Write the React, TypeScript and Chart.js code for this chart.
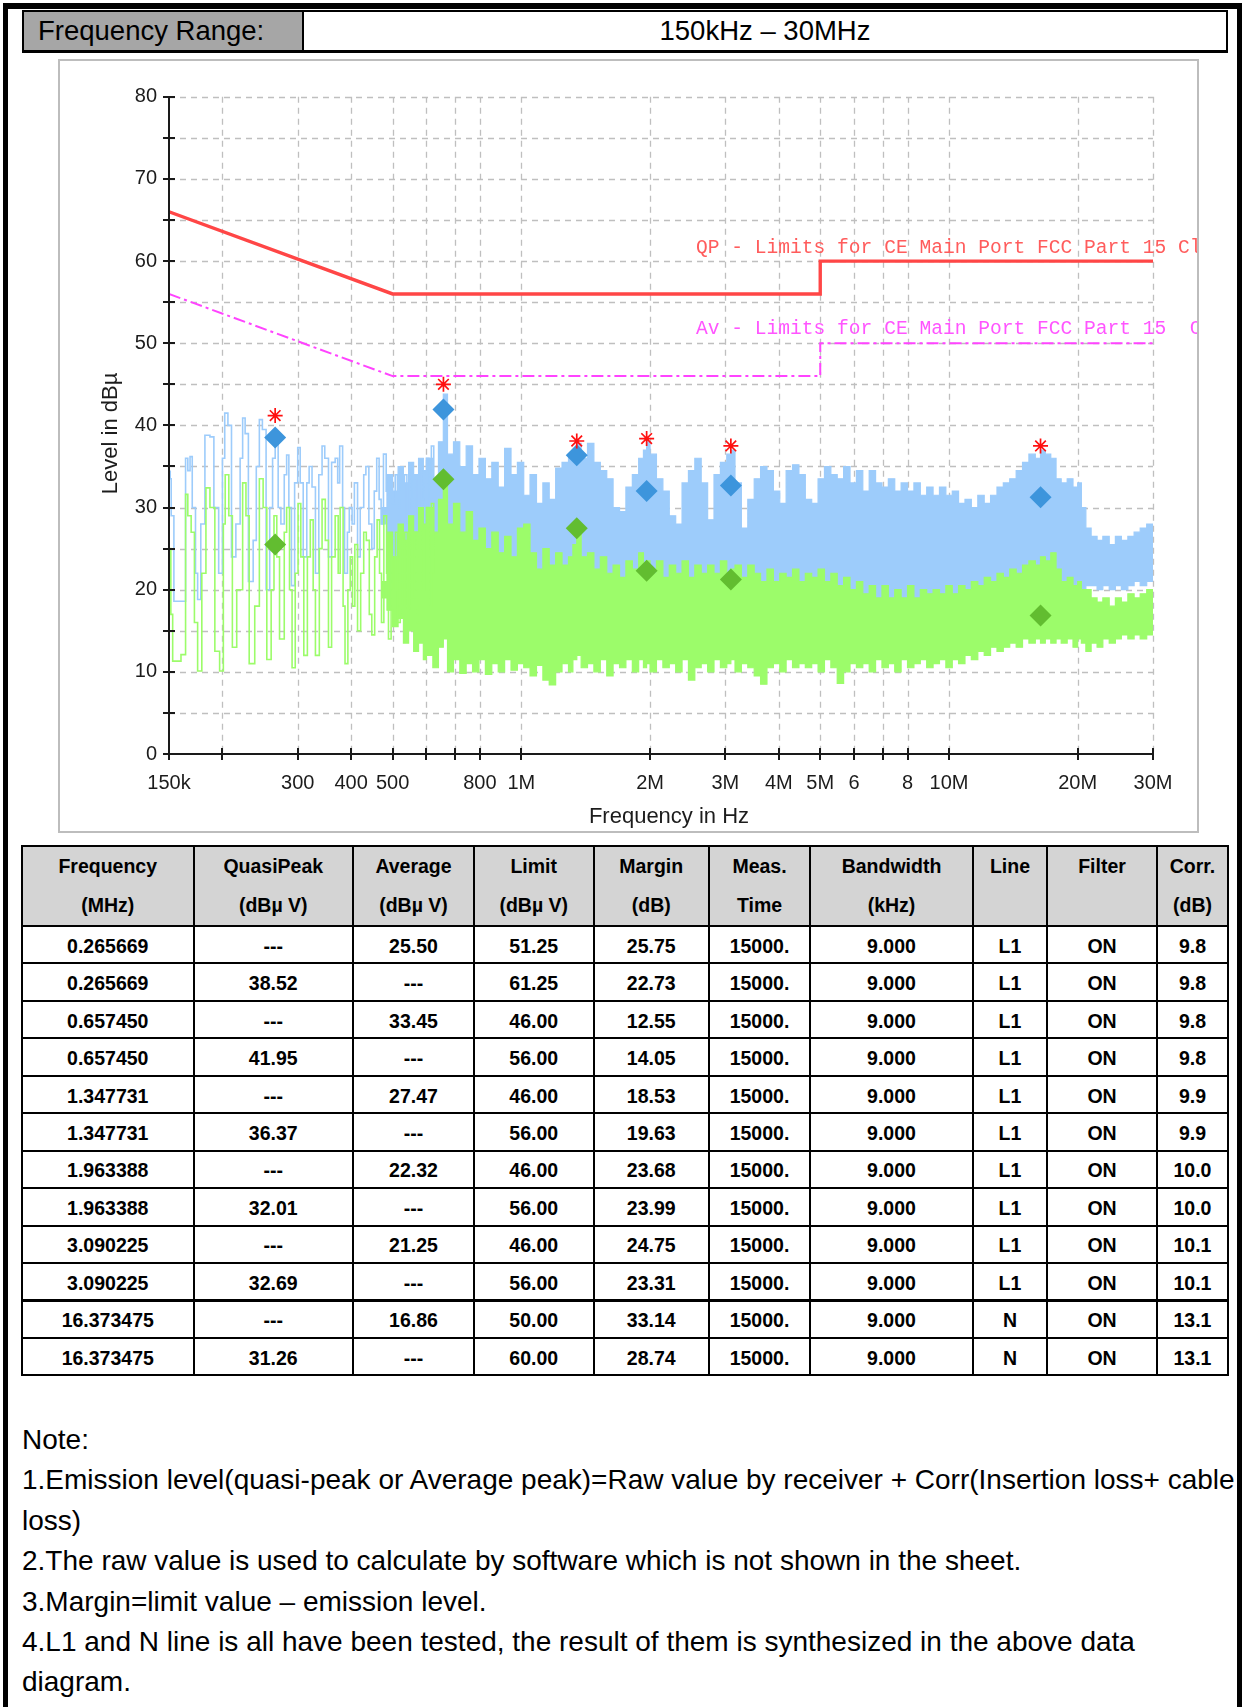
import React, { useEffect, useRef } from 'react';
import { Chart, registerables } from 'chart.js';

Chart.register(...registerables);

// ---------------- axis data ----------------
const X_MIN = 0.15;
const X_MAX = 30;
const Y_MIN = 0;
const Y_MAX = 80;
const xTickValues = [0.15, 0.2, 0.3, 0.4, 0.5, 0.6, 0.7, 0.8, 1, 2, 3, 4, 5, 6, 7, 8, 10, 20, 30];
const xLabelValues = [0.15, 0.3, 0.4, 0.5, 0.8, 1, 2, 3, 4, 5, 6, 8, 10, 20, 30];
const xLabelTexts = ['150k', '300', '400', '500', '800', '1M', '2M', '3M', '4M', '5M', '6', '8', '10M', '20M', '30M'];
const yTickValues = [0, 5, 10, 15, 20, 25, 30, 35, 40, 45, 50, 55, 60, 65, 70, 75, 80];
const yLabelValues = [0, 10, 20, 30, 40, 50, 60, 70, 80];

// ---------------- limit lines ----------------
const limitFreq = [0.15, 0.5, 5, 5, 30];
const qpLimitLevel = [66, 56, 56, 60, 60];
const avLimitLevel = [56, 46, 46, 50, 50];
const qpLimitLabel = 'QP - Limits for CE Main Port FCC Part 15 Class B';
const avLimitLabel = 'Av - Limits for CE Main Port FCC Part 15  Class B';

// ---------------- final measurement markers ----------------
const markerFreq = [0.265669, 0.65745, 1.347731, 1.963388, 3.090225, 16.373475];
const qpLevel = [38.52, 41.95, 36.37, 32.01, 32.69, 31.26];
const avLevel = [25.5, 33.45, 27.47, 22.32, 21.25, 16.86];
const peakLevel = [41.2, 45.0, 38.1, 38.4, 37.5, 37.5];

// ---------------- peak scan (blue), low band trace [MHz, dBuV] ----------------
const blueLowTrace: [number, number][] = [
  [0.1500, 34.4], [0.1510, 33.5], [0.1518, 29.0], [0.1540, 18.6], [0.1600, 18.6], [0.1640, 36.0],
  [0.1660, 34.5], [0.1680, 36.2], [0.1700, 30.0], [0.1730, 22.0], [0.1750, 18.8], [0.1780, 28.0],
  [0.1820, 38.8], [0.1870, 38.6], [0.1910, 30.0], [0.1960, 22.0], [0.2000, 36.0], [0.2025, 41.5],
  [0.2060, 40.0], [0.2100, 24.0], [0.2150, 28.0], [0.2200, 36.0], [0.2230, 40.9], [0.2260, 39.0],
  [0.2300, 21.0], [0.2360, 26.0], [0.2400, 35.0], [0.2440, 40.7], [0.2480, 39.5], [0.2530, 20.0],
  [0.2580, 30.0], [0.2620, 36.0], [0.2657, 38.5], [0.2700, 30.0], [0.2740, 28.0], [0.2790, 34.0],
  [0.2826, 36.4], [0.2860, 30.0], [0.2900, 20.5], [0.2950, 33.0], [0.3000, 37.3], [0.3040, 33.0],
  [0.3090, 24.0], [0.3150, 33.0], [0.3190, 35.0], [0.3240, 32.5], [0.3300, 22.0], [0.3360, 34.0],
  [0.3420, 37.5], [0.3470, 36.0], [0.3540, 24.0], [0.3600, 35.5], [0.3670, 36.0], [0.3720, 33.0],
  [0.3760, 37.5], [0.3820, 30.0], [0.3860, 22.0], [0.3920, 27.0], [0.3960, 30.0], [0.4020, 28.0],
  [0.4070, 33.0], [0.4140, 24.0], [0.4200, 30.0], [0.4280, 34.0], [0.4330, 35.0], [0.4400, 28.0],
  [0.4470, 25.0], [0.4530, 32.0], [0.4590, 36.0], [0.4650, 31.0], [0.4700, 28.0], [0.4760, 36.5],
  [0.4830, 32.0], [0.4890, 26.0], [0.4950, 33.0], [0.5000, 30.5], [0.5070, 34.0], [0.5130, 27.0],
  [0.5200, 33.5], [0.5260, 29.0], [0.5330, 34.0], [0.5400, 28.0], [0.5480, 35.0], [0.5550, 30.0],
  [0.5620, 33.5], [0.5700, 28.5], [0.5773, 35.0], [0.5850, 31.0], [0.5920, 33.0], [0.6000, 36.0],
  [0.6080, 30.0], [0.6160, 37.5], [0.6240, 33.0],
];

// ---------------- average scan (green), low band trace [MHz, dBuV] ----------------
const greenLowTrace: [number, number][] = [
  [0.1500, 21.0], [0.1508, 25.0], [0.1515, 17.0], [0.1530, 11.3], [0.1600, 12.1], [0.1640, 31.6],
  [0.1660, 29.0], [0.1690, 27.0], [0.1720, 16.0], [0.1750, 10.1], [0.1790, 22.0], [0.1830, 32.4],
  [0.1870, 30.0], [0.1920, 12.5], [0.1970, 10.1], [0.2010, 28.0], [0.2030, 34.0], [0.2070, 29.0],
  [0.2110, 13.0], [0.2160, 20.0], [0.2230, 33.0], [0.2270, 29.0], [0.2310, 11.0], [0.2380, 18.0],
  [0.2440, 33.5], [0.2490, 30.0], [0.2540, 11.5], [0.2600, 20.0], [0.2640, 29.0], [0.2680, 24.0],
  [0.2720, 14.0], [0.2790, 27.0], [0.2826, 30.0], [0.2870, 20.0], [0.2910, 10.5], [0.2960, 22.0],
  [0.3005, 30.5], [0.3050, 24.0], [0.3100, 12.0], [0.3160, 24.0], [0.3210, 28.5], [0.3260, 20.0],
  [0.3300, 12.0], [0.3370, 25.0], [0.3420, 31.0], [0.3480, 26.0], [0.3540, 13.0], [0.3600, 24.0],
  [0.3670, 29.0], [0.3730, 22.0], [0.3770, 30.0], [0.3830, 18.0], [0.3870, 11.0], [0.3930, 20.0],
  [0.3980, 24.0], [0.4030, 18.0], [0.4080, 25.5], [0.4140, 15.0], [0.4210, 22.0], [0.4280, 27.0],
  [0.4340, 26.0], [0.4410, 17.0], [0.4470, 14.5], [0.4540, 24.0], [0.4600, 28.5], [0.4660, 22.0],
  [0.4710, 16.0], [0.4770, 29.0], [0.4840, 22.0], [0.4890, 14.0], [0.4960, 24.0], [0.5010, 20.0],
  [0.5080, 27.0], [0.5140, 16.0], [0.5210, 26.5], [0.5270, 18.0], [0.5340, 27.0], [0.5410, 17.5],
  [0.5490, 28.0], [0.5560, 19.0], [0.5630, 27.0], [0.5710, 16.0], [0.5773, 29.0], [0.5860, 20.0],
  [0.5930, 27.5], [0.6000, 30.0], [0.6080, 18.0], [0.6160, 30.5], [0.6240, 22.0],
];

// ---------------- dense region envelopes [MHz, upper, lower] ----------------
const blueBand: [number, number, number][] = [
  [0.470, 30.0, 28.0], [0.485, 34.0, 26.0], [0.500, 32.0, 23.0], [0.515, 35.0, 24.5], [0.530, 33.0, 21.5],
  [0.545, 35.5, 22.5], [0.560, 34.0, 20.5], [0.575, 36.0, 21.5], [0.590, 34.5, 19.5],
  [0.600, 36.0, 20.0], [0.621, 33.5, 18.5], [0.640, 38.0, 21.0], [0.657, 43.8, 22.0], [0.672, 36.5, 18.0],
  [0.694, 38.0, 19.0], [0.718, 35.0, 17.5], [0.743, 37.5, 18.5], [0.769, 34.0, 17.0], [0.796, 36.0, 18.0],
  [0.824, 33.5, 17.5], [0.853, 35.5, 18.0], [0.883, 32.5, 17.0], [0.914, 37.2, 18.5], [0.946, 34.0, 17.5],
  [0.979, 35.5, 18.0], [1.013, 31.5, 17.0], [1.048, 34.0, 17.5], [1.085, 30.5, 16.8], [1.123, 33.0, 17.2],
  [1.162, 31.0, 16.5], [1.203, 34.8, 17.5], [1.245, 35.5, 18.0], [1.289, 36.5, 17.5], [1.320, 37.0, 18.5],
  [1.348, 37.8, 19.0], [1.380, 36.0, 18.0], [1.428, 37.8, 18.5], [1.478, 35.5, 17.5], [1.530, 34.5, 18.0],
  [1.584, 33.5, 17.0], [1.639, 30.0, 17.5], [1.697, 29.5, 17.0], [1.756, 32.5, 17.5], [1.818, 34.0, 18.0],
  [1.881, 36.0, 18.5], [1.930, 37.0, 18.0], [1.963, 38.0, 19.0], [2.000, 36.5, 18.0], [2.070, 33.5, 17.5],
  [2.143, 32.0, 17.0], [2.218, 29.0, 17.5], [2.296, 28.0, 17.0], [2.376, 33.0, 17.5], [2.459, 34.5, 18.0],
  [2.545, 36.0, 17.5], [2.634, 33.0, 17.0], [2.727, 28.5, 17.5], [2.822, 34.0, 18.0], [2.921, 35.5, 18.5],
  [3.023, 36.5, 18.0], [3.090, 37.0, 19.0], [3.160, 33.0, 17.5], [3.271, 27.5, 17.0], [3.385, 31.0, 17.5],
  [3.504, 33.5, 18.0], [3.626, 35.0, 17.5], [3.753, 34.5, 18.0], [3.885, 32.0, 17.5], [4.021, 30.5, 17.0],
  [4.161, 34.5, 18.0], [4.307, 35.2, 18.5], [4.458, 34.0, 18.0], [4.614, 31.0, 17.5], [4.775, 30.5, 17.0],
  [4.942, 33.5, 18.0], [5.115, 35.0, 18.5], [5.294, 34.0, 18.0], [5.479, 33.5, 17.5], [5.671, 35.0, 18.0],
  [5.870, 33.0, 18.5], [6.075, 34.5, 18.0], [6.288, 32.0, 18.5], [6.508, 34.5, 18.0], [6.736, 33.0, 18.5],
  [6.971, 32.5, 18.0], [7.215, 33.5, 18.5], [7.468, 32.0, 18.0], [7.729, 33.0, 18.5], [8.000, 32.0, 18.0],
  [8.280, 33.0, 18.5], [8.570, 31.5, 18.0], [8.870, 32.5, 18.5], [9.180, 31.5, 18.0], [9.501, 32.5, 18.5],
  [9.834, 31.5, 18.0], [10.18, 32.0, 18.5], [10.53, 30.5, 18.0], [10.90, 31.0, 18.5], [11.28, 30.0, 18.5],
  [11.68, 31.5, 19.0], [12.09, 30.5, 18.5], [12.51, 31.5, 19.0], [12.95, 32.5, 19.5], [13.40, 33.0, 19.0],
  [13.87, 33.5, 19.5], [14.36, 34.5, 20.0], [14.86, 35.5, 19.5], [15.38, 36.5, 20.0], [15.92, 36.0, 20.5],
  [16.37, 37.0, 20.0], [16.80, 36.5, 20.5], [17.30, 36.0, 20.0], [17.80, 33.5, 20.5], [18.30, 33.0, 20.0],
  [18.90, 33.5, 20.5], [19.50, 32.5, 20.0], [20.00, 33.0, 20.5], [20.40, 30.0, 20.0], [20.90, 27.5, 20.5],
  [21.50, 26.5, 20.5], [22.20, 26.0, 20.0], [22.90, 26.5, 20.5], [23.70, 25.5, 20.0], [24.50, 26.5, 20.5],
  [25.30, 26.0, 20.0], [26.20, 26.5, 20.5], [27.10, 27.0, 21.0], [28.00, 27.5, 20.5], [29.00, 28.0, 21.0],
  [30.00, 28.0, 21.5],
];

const greenBand: [number, number, number][] = [
  [0.470, 21.0, 19.0], [0.485, 27.0, 17.5], [0.500, 24.0, 15.5], [0.515, 28.0, 16.5], [0.530, 26.0, 13.5],
  [0.545, 29.0, 15.0], [0.560, 27.0, 12.5], [0.575, 30.0, 13.5], [0.590, 28.0, 11.5],
  [0.600, 30.0, 12.0], [0.621, 27.0, 10.5], [0.640, 31.0, 13.0], [0.657, 33.4, 14.0], [0.672, 28.0, 10.0],
  [0.694, 30.5, 11.5], [0.718, 27.0, 9.8], [0.743, 29.5, 11.0], [0.769, 26.0, 10.0], [0.796, 27.5, 11.5],
  [0.824, 25.0, 9.7], [0.853, 27.0, 11.0], [0.883, 24.5, 10.0], [0.914, 26.5, 11.5], [0.946, 24.0, 10.2],
  [0.979, 27.5, 11.0], [1.013, 28.0, 10.5], [1.048, 24.5, 9.5], [1.085, 22.5, 10.8], [1.123, 25.0, 9.0],
  [1.162, 23.0, 8.4], [1.203, 24.5, 10.0], [1.245, 23.0, 11.0], [1.289, 24.0, 10.0], [1.320, 25.5, 11.5],
  [1.348, 27.5, 12.0], [1.380, 24.0, 10.5], [1.428, 24.5, 11.0], [1.478, 22.5, 10.0], [1.530, 24.0, 11.5],
  [1.584, 22.0, 9.5], [1.639, 23.0, 11.0], [1.697, 21.5, 10.5], [1.756, 23.5, 11.5], [1.818, 22.5, 10.0],
  [1.881, 24.5, 11.5], [1.930, 23.0, 10.5], [1.963, 23.5, 11.0], [2.000, 22.0, 10.0], [2.070, 23.5, 11.5],
  [2.143, 21.5, 10.5], [2.218, 23.0, 11.0], [2.296, 22.0, 10.0], [2.376, 23.5, 11.5], [2.459, 21.5, 9.0],
  [2.545, 23.0, 10.5], [2.634, 22.0, 11.0], [2.727, 23.0, 10.0], [2.822, 22.0, 11.5], [2.921, 23.5, 10.5],
  [3.023, 22.0, 11.0], [3.090, 22.5, 11.5], [3.160, 23.0, 10.0], [3.271, 21.5, 11.0], [3.385, 23.0, 10.5],
  [3.504, 22.0, 9.5], [3.626, 21.0, 8.5], [3.753, 22.5, 10.5], [3.885, 21.0, 11.0], [4.021, 22.0, 10.0],
  [4.161, 21.5, 11.5], [4.307, 22.5, 10.5], [4.458, 21.0, 11.0], [4.614, 22.0, 10.5], [4.775, 21.5, 11.0],
  [4.942, 22.5, 10.0], [5.115, 21.0, 11.5], [5.294, 22.0, 10.5], [5.479, 20.5, 8.6], [5.671, 21.5, 10.0],
  [5.870, 20.0, 11.0], [6.075, 21.0, 10.5], [6.288, 19.5, 11.0], [6.508, 20.5, 10.0], [6.736, 19.0, 11.5],
  [6.971, 20.5, 10.5], [7.215, 19.0, 11.0], [7.468, 20.0, 10.0], [7.729, 19.0, 11.5], [8.000, 20.5, 10.5],
  [8.280, 19.0, 11.0], [8.570, 20.0, 11.5], [8.870, 19.5, 10.5], [9.180, 20.0, 11.0], [9.501, 19.5, 11.5],
  [9.834, 20.5, 10.5], [10.18, 19.5, 11.5], [10.53, 20.5, 11.0], [10.90, 20.0, 12.0], [11.28, 21.0, 11.5],
  [11.68, 20.5, 12.5], [12.09, 21.5, 12.0], [12.51, 21.0, 13.0], [12.95, 22.0, 12.5], [13.40, 21.5, 13.0],
  [13.87, 22.5, 13.5], [14.36, 22.0, 13.0], [14.86, 23.0, 14.0], [15.38, 23.5, 13.5], [15.92, 23.0, 14.0],
  [16.37, 24.0, 13.5], [16.80, 23.5, 14.0], [17.30, 24.5, 13.5], [17.80, 22.5, 14.0], [18.30, 21.0, 13.5],
  [18.90, 21.5, 14.0], [19.50, 20.5, 13.0], [20.00, 21.0, 14.0], [20.40, 20.0, 13.5], [20.90, 20.0, 12.5],
  [21.50, 19.0, 13.5], [22.20, 18.5, 13.0], [22.90, 19.0, 14.0], [23.70, 18.0, 13.5], [24.50, 19.0, 14.0],
  [25.30, 18.5, 14.5], [26.20, 19.5, 14.0], [27.10, 19.0, 14.5], [28.00, 19.5, 14.0], [29.00, 20.0, 14.5],
  [30.00, 20.0, 15.0],
];

// ---------------- table data ----------------
const headerLine1 = ['Frequency', 'QuasiPeak', 'Average', 'Limit', 'Margin', 'Meas.', 'Bandwidth', 'Line', 'Filter', 'Corr.'];
const headerLine2 = ['(MHz)', '(dBµ V)', '(dBµ V)', '(dBµ V)', '(dB)', 'Time', '(kHz)', '', '', '(dB)'];
const rowFreq = ['0.265669', '0.265669', '0.657450', '0.657450', '1.347731', '1.347731', '1.963388', '1.963388', '3.090225', '3.090225', '16.373475', '16.373475'];
const rowQP = ['---', '38.52', '---', '41.95', '---', '36.37', '---', '32.01', '---', '32.69', '---', '31.26'];
const rowAV = ['25.50', '---', '33.45', '---', '27.47', '---', '22.32', '---', '21.25', '---', '16.86', '---'];
const rowLimit = ['51.25', '61.25', '46.00', '56.00', '46.00', '56.00', '46.00', '56.00', '46.00', '56.00', '50.00', '60.00'];
const rowMargin = ['25.75', '22.73', '12.55', '14.05', '18.53', '19.63', '23.68', '23.99', '24.75', '23.31', '33.14', '28.74'];
const rowTime = ['15000.', '15000.', '15000.', '15000.', '15000.', '15000.', '15000.', '15000.', '15000.', '15000.', '15000.', '15000.'];
const rowBandwidth = ['9.000', '9.000', '9.000', '9.000', '9.000', '9.000', '9.000', '9.000', '9.000', '9.000', '9.000', '9.000'];
const rowLine = ['L1', 'L1', 'L1', 'L1', 'L1', 'L1', 'L1', 'L1', 'L1', 'L1', 'N', 'N'];
const rowFilter = ['ON', 'ON', 'ON', 'ON', 'ON', 'ON', 'ON', 'ON', 'ON', 'ON', 'ON', 'ON'];
const rowCorr = ['9.8', '9.8', '9.8', '9.8', '9.9', '9.9', '10.0', '10.0', '10.1', '10.1', '13.1', '13.1'];

const noteLines = [
  'Note:',
  '1.Emission level(quasi-peak or Average peak)=Raw value by receiver + Corr(Insertion loss+ cable',
  'loss)',
  '2.The raw value is used to calculate by software which is not shown in the sheet.',
  '3.Margin=limit value – emission level.',
  '4.L1 and N line is all have been tested, the result of them is synthesized in the above data',
  'diagram.',
];

// ---------------- layout / style constants ----------------
const SANS = '"Liberation Sans", Arial, Helvetica, sans-serif';
const MONO = '"Liberation Mono", "DejaVu Sans Mono", monospace';
const BLUE_TRACE = '#9dccfb';
const GREEN_TRACE = '#9cfc6a';
const CANVAS_W = 1137;
const CANVAS_H = 770;
const colEdges = [22, 193.5, 353, 474, 593.5, 709, 810, 973, 1047, 1157, 1228];
const TABLE_TOP = 846;
const HEADER_H = 80;
const ROW_H = 37.45;
const NOTE_TOP = 1420;
const NOTE_PITCH = 40.4;

const decorPlugin = {
  id: 'emcDecor',
  beforeDatasetsDraw(chart: any) {
    const { ctx, chartArea: a, scales } = chart;
    const xs = scales.x;
    const ys = scales.y;
    ctx.save();
    ctx.strokeStyle = '#bfbfbf';
    ctx.lineWidth = 1.3;
    ctx.setLineDash([6, 5]);
    ctx.beginPath();
    for (const v of yTickValues) {
      if (v === Y_MIN) continue;
      const py = Math.round(ys.getPixelForValue(v)) + 0.5;
      ctx.moveTo(a.left, py);
      ctx.lineTo(a.right, py);
    }
    for (const f of xTickValues) {
      if (f === X_MIN) continue;
      const px = Math.round(xs.getPixelForValue(f)) + 0.5;
      ctx.moveTo(px, a.top);
      ctx.lineTo(px, a.bottom);
    }
    ctx.stroke();
    ctx.restore();
  },
  afterDatasetsDraw(chart: any) {
    const { ctx, chartArea: a, scales } = chart;
    const xs = scales.x;
    const ys = scales.y;
    ctx.save();
    ctx.setLineDash([]);
    ctx.strokeStyle = '#1a1a1a';
    ctx.lineWidth = 2;
    ctx.beginPath();
    ctx.moveTo(a.left, a.top);
    ctx.lineTo(a.left, a.bottom);
    ctx.lineTo(a.right, a.bottom);
    for (const v of yTickValues) {
      const py = Math.round(ys.getPixelForValue(v));
      ctx.moveTo(a.left - 6, py);
      ctx.lineTo(a.left + 6, py);
    }
    for (const f of xTickValues) {
      const px = Math.round(xs.getPixelForValue(f));
      ctx.moveTo(px, a.bottom - 6);
      ctx.lineTo(px, a.bottom + 6);
    }
    ctx.stroke();

    ctx.fillStyle = '#1c1c1c';
    ctx.font = `20px ${SANS}`;
    ctx.textBaseline = 'middle';
    ctx.textAlign = 'right';
    for (const v of yLabelValues) {
      ctx.fillText(String(v), a.left - 12, ys.getPixelForValue(v));
    }
    ctx.textAlign = 'center';
    xLabelValues.forEach((f, i) => {
      ctx.fillText(xLabelTexts[i], xs.getPixelForValue(f), a.bottom + 29);
    });

    ctx.font = `22px ${SANS}`;
    ctx.fillText('Frequency in Hz', (a.left + a.right) / 2 + 8, a.bottom + 63);
    ctx.save();
    ctx.translate(a.left - 58, (a.top + a.bottom) / 2 + 8);
    ctx.rotate(-Math.PI / 2);
    ctx.fillText('Level in dBµ', 0, 0);
    ctx.restore();

    ctx.font = `19.6px ${MONO}`;
    ctx.textAlign = 'left';
    ctx.fillStyle = '#ff5c5c';
    ctx.fillText(qpLimitLabel, a.left + 527, ys.getPixelForValue(qpLimitLevel[4]) - 13);
    ctx.fillStyle = '#ff55ff';
    ctx.fillText(avLimitLabel, a.left + 527, ys.getPixelForValue(avLimitLevel[4]) - 14);
    ctx.restore();
  },
};

function toXY(fs: number[], vs: number[]) {
  return fs.map((f, i) => ({ x: f, y: vs[i] }));
}

function buildConfig(): any {
  const lineBase = { showLine: true, pointRadius: 0, fill: false, tension: 0 };
  return {
    type: 'line',
    data: {
      datasets: [
        // 0 peak asterisks
        {
          ...lineBase, showLine: false, order: 1,
          data: toXY(markerFreq, peakLevel),
          pointStyle: 'star', pointRadius: 7.5, pointBorderWidth: 1.7,
          pointBorderColor: '#ff1010', pointBackgroundColor: '#ff1010',
        },
        // 1 QP diamonds
        {
          ...lineBase, showLine: false, order: 2,
          data: toXY(markerFreq, qpLevel),
          pointStyle: 'rectRot', pointRadius: 11, pointBorderWidth: 0,
          pointBackgroundColor: '#3d95dc', pointBorderColor: '#3d95dc',
        },
        // 2 AV diamonds
        {
          ...lineBase, showLine: false, order: 2,
          data: toXY(markerFreq, avLevel),
          pointStyle: 'rectRot', pointRadius: 11, pointBorderWidth: 0,
          pointBackgroundColor: '#62bd30', pointBorderColor: '#62bd30',
        },
        // 3 QP limit
        {
          ...lineBase, order: 5,
          data: toXY(limitFreq, qpLimitLevel),
          borderColor: '#ff4646', borderWidth: 3.4,
        },
        // 4 AV limit
        {
          ...lineBase, order: 5,
          data: toXY(limitFreq, avLimitLevel),
          borderColor: '#ff44ff', borderWidth: 2, borderDash: [12, 4, 3, 4],
        },
        // 5 green low trace
        {
          ...lineBase, order: 7, stepped: true,
          data: greenLowTrace.map(([f, v]) => ({ x: f, y: v })),
          borderColor: GREEN_TRACE, borderWidth: 1.6,
        },
        // 6 green band upper
        {
          ...lineBase, order: 8, stepped: true,
          data: greenBand.map(([f, u]) => ({ x: f, y: u })),
          borderColor: GREEN_TRACE, borderWidth: 1.2,
        },
        // 7 green band lower (filled to upper)
        {
          ...lineBase, order: 8, fill: '-1', stepped: true,
          data: greenBand.map(([f, , l]) => ({ x: f, y: l })),
          borderColor: GREEN_TRACE, borderWidth: 1.2, backgroundColor: GREEN_TRACE,
        },
        // 8 blue low trace
        {
          ...lineBase, order: 9, stepped: true,
          data: blueLowTrace.map(([f, v]) => ({ x: f, y: v })),
          borderColor: BLUE_TRACE, borderWidth: 1.6,
        },
        // 9 blue band upper
        {
          ...lineBase, order: 10, stepped: true,
          data: blueBand.map(([f, u]) => ({ x: f, y: u })),
          borderColor: BLUE_TRACE, borderWidth: 1.2,
        },
        // 10 blue band lower (filled to upper)
        {
          ...lineBase, order: 10, fill: '-1', stepped: true,
          data: blueBand.map(([f, , l]) => ({ x: f, y: l })),
          borderColor: BLUE_TRACE, borderWidth: 1.2, backgroundColor: BLUE_TRACE,
        },
      ],
    },
    options: {
      animation: false,
      responsive: false,
      maintainAspectRatio: false,
      events: [],
      layout: { padding: { left: 109, top: 35.8, right: 44, bottom: 77 } },
      plugins: {
        legend: { display: false },
        tooltip: { enabled: false },
        filler: { propagate: false },
      },
      scales: {
        x: { type: 'logarithmic', min: X_MIN, max: X_MAX, display: false },
        y: { type: 'linear', min: Y_MIN, max: Y_MAX, display: false },
      },
    },
    plugins: [decorPlugin],
  };
}

function Cell(props: { x0: number; x1: number; y0: number; y1: number; bg?: string; children?: any }) {
  const { x0, x1, y0, y1, bg, children } = props;
  return (
    <div
      style={{
        position: 'absolute',
        left: x0 - 1,
        top: y0 - 1,
        width: x1 - x0 + 2,
        height: y1 - y0 + 2,
        border: '2px solid #000',
        boxSizing: 'border-box',
        background: bg || '#fff',
        fontWeight: 'bold',
        fontSize: 19.5,
        color: '#000',
      }}
    >
      {children}
    </div>
  );
}

export default function App() {
  const canvasRef = useRef<HTMLCanvasElement | null>(null);

  useEffect(() => {
    if (!canvasRef.current) return;
    const chart = new Chart(canvasRef.current, buildConfig());
    return () => chart.destroy();
  }, []);

  const rows = rowFreq.map((_, i) => [
    rowFreq[i], rowQP[i], rowAV[i], rowLimit[i], rowMargin[i], rowTime[i], rowBandwidth[i], rowLine[i], rowFilter[i], rowCorr[i],
  ]);

  return (
    <div
      style={{
        position: 'absolute', left: 0, top: 0, width: 1245, height: 1707,
        background: '#fff', overflow: 'hidden', fontFamily: SANS, color: '#000',
      }}
    >
      {/* outer frame */}
      <div
        style={{
          position: 'absolute', left: 3, top: 3, width: 1239, height: 1760, boxSizing: 'border-box',
          borderLeft: '5px solid #000', borderTop: '6px solid #000', borderRight: '5px solid #000',
        }}
      />

      {/* frequency range row */}
      <div
        style={{
          position: 'absolute', left: 22, top: 10, width: 1206, height: 43, boxSizing: 'border-box',
          border: '2px solid #000', borderBottom: '3px solid #000', background: '#fff',
        }}
      >
        <div
          style={{
            position: 'absolute', left: 0, top: 0, width: 280, height: 38, background: '#a6a6a6',
            borderRight: '2px solid #000', boxSizing: 'border-box', fontSize: 27.5, lineHeight: '38px', paddingLeft: 14,
            whiteSpace: 'nowrap',
          }}
        >
          Frequency Range:
        </div>
        <div
          style={{
            position: 'absolute', left: 280, top: 0, right: 0, height: 38, textAlign: 'center',
            fontSize: 27.5, lineHeight: '38px', whiteSpace: 'nowrap',
          }}
        >
          150kHz – 30MHz
        </div>
      </div>

      {/* chart panel */}
      <div
        style={{
          position: 'absolute', left: 58, top: 59, width: 1141, height: 774, boxSizing: 'border-box',
          border: '2px solid #bdbdbd', background: '#fff',
        }}
      >
        <canvas
          ref={canvasRef}
          width={CANVAS_W}
          height={CANVAS_H}
          style={{ display: 'block', width: CANVAS_W, height: CANVAS_H }}
        />
      </div>

      {/* table header */}
      {headerLine1.map((h, c) => (
        <Cell key={'h' + c} x0={colEdges[c]} x1={colEdges[c + 1]} y0={TABLE_TOP} y1={TABLE_TOP + HEADER_H} bg="#d4d4d4">
          <div style={{ height: 39, lineHeight: '39px', textAlign: 'center', whiteSpace: 'nowrap' }}>{h}</div>
          <div style={{ height: 39, lineHeight: '39px', textAlign: 'center', whiteSpace: 'nowrap' }}>{headerLine2[c]}</div>
        </Cell>
      ))}

      {/* table body */}
      {rows.map((r, ri) =>
        r.map((txt, c) => {
          const y0 = TABLE_TOP + HEADER_H + ri * ROW_H;
          return (
            <Cell key={`r${ri}c${c}`} x0={colEdges[c]} x1={colEdges[c + 1]} y0={y0} y1={y0 + ROW_H}>
              <div style={{ height: '100%', display: 'flex', alignItems: 'center', justifyContent: 'center', paddingTop: 3, boxSizing: 'border-box', whiteSpace: 'nowrap' }}>
                {txt}
              </div>
            </Cell>
          );
        })
      )}

      {/* notes */}
      {noteLines.map((t, i) => (
        <div
          key={'n' + i}
          style={{
            position: 'absolute', left: 22, top: NOTE_TOP + i * NOTE_PITCH, height: 40, lineHeight: '40px',
            fontSize: 28, whiteSpace: 'nowrap',
          }}
        >
          {t}
        </div>
      ))}
    </div>
  );
}
